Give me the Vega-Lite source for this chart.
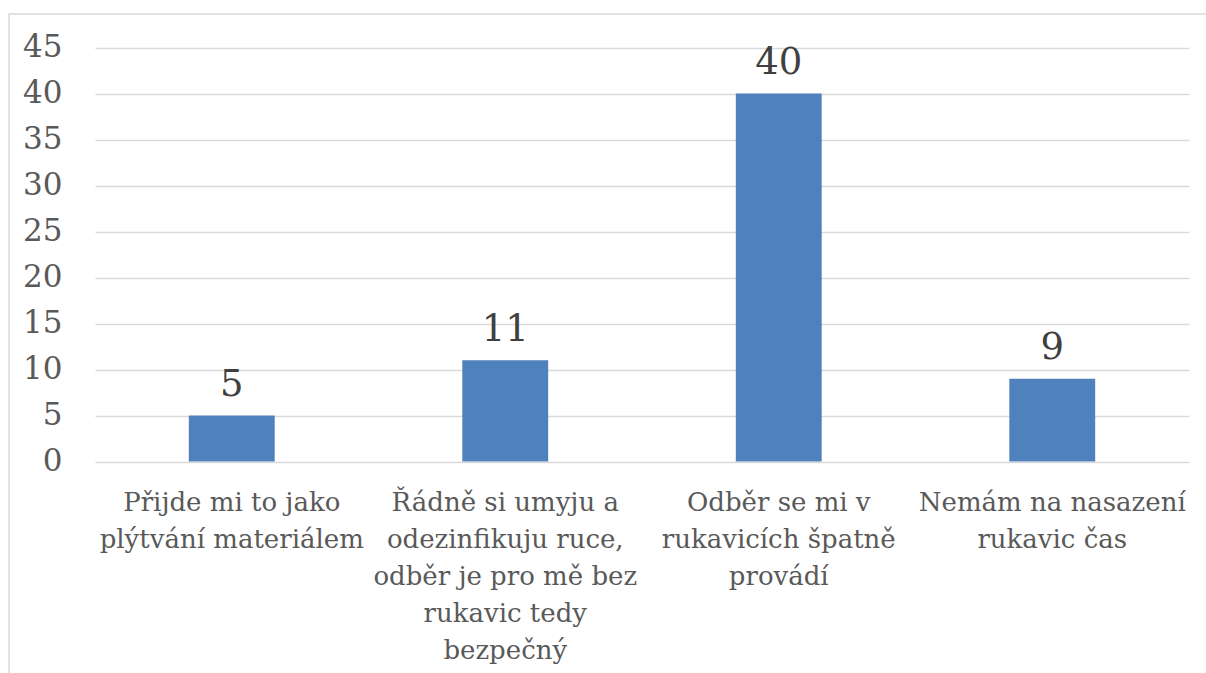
{
  "$schema": "https://vega.github.io/schema/vega-lite/v6.json",
  "autosize": "none",
  "width": 1200,
  "height": 680,
  "padding": {"left": 9, "top": 14, "right": 0, "bottom": 0},
  "background": "#ffffff",
  "config": {
    "view": {"stroke": "#d9d9d9", "strokeWidth": 1.5},
    "font": "DejaVu Serif"
  },
  "data": {
    "values": [
      {"duvod": "Přijde mi to jako\nplýtvání materiálem", "pocet": 5},
      {"duvod": "Řádně si umyju a\nodezinfikuju ruce,\nodběr je pro mě bez\nrukavic tedy\nbezpečný", "pocet": 11},
      {"duvod": "Odběr se mi v\nrukavicích špatně\nprovádí", "pocet": 40},
      {"duvod": "Nemám na nasazení\nrukavic čas", "pocet": 9}
    ]
  },
  "encoding": {
    "x": {
      "field": "duvod",
      "type": "nominal",
      "sort": null,
      "scale": {"range": [86, 1180], "paddingInner": 0.686, "paddingOuter": 0.343},
      "axis": {
        "title": null,
        "orient": "bottom",
        "offset": -232.5,
        "domain": false,
        "ticks": false,
        "tickSize": 0,
        "grid": false,
        "labelAngle": 0,
        "labelAlign": "center",
        "labelBaseline": "alphabetic",
        "labelPadding": 48.5,
        "labelFont": "DejaVu Serif",
        "labelFontSize": 26,
        "labelLineHeight": 37,
        "labelColor": "#595959",
        "labelLimit": 0,
        "labelOverlap": false,
        "labelExpr": "split(datum.label, '\\n')"
      }
    },
    "y": {
      "field": "pocet",
      "type": "quantitative",
      "scale": {"domain": [0, 45], "range": [447.5, 33.5], "nice": false},
      "axis": {
        "title": null,
        "values": [0, 5, 10, 15, 20, 25, 30, 35, 40, 45],
        "domain": false,
        "ticks": false,
        "tickSize": 0,
        "grid": true,
        "gridColor": "#d9d9d9",
        "gridWidth": 1.5,
        "labelAlign": "right",
        "labelBaseline": "middle",
        "labelPadding": -53,
        "labelFont": "DejaVu Serif",
        "labelFontSize": 31,
        "labelColor": "#595959"
      }
    }
  },
  "layer": [
    {"mark": {"type": "bar", "color": "#4f81bd"}},
    {
      "mark": {
        "type": "text",
        "baseline": "alphabetic",
        "align": "center",
        "dy": -19.5,
        "font": "DejaVu Serif",
        "fontSize": 37,
        "color": "#404040"
      },
      "encoding": {"text": {"field": "pocet", "type": "quantitative"}}
    }
  ]
}
